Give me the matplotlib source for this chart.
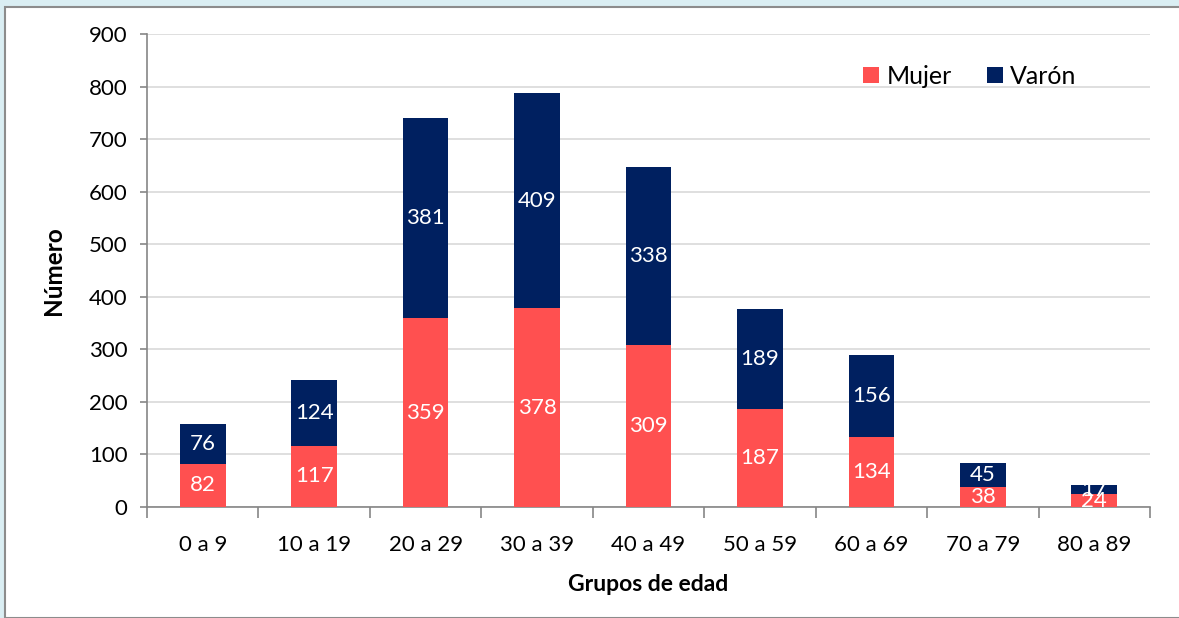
import matplotlib.pyplot as plt
from matplotlib.patches import Rectangle
import numpy as np

# Datos
grupos = ['0 a 9', '10 a 19', '20 a 29', '30 a 39', '40 a 49',
          '50 a 59', '60 a 69', '70 a 79', '80 a 89']
mujer = [82, 117, 359, 378, 309, 187, 134, 38, 24]
varon = [76, 124, 381, 409, 338, 189, 156, 45, 17]

color_mujer = '#FF5050'
color_varon = '#002060'

plt.rcParams['font.family'] = ['Lato', 'DejaVu Sans']

fig = plt.figure(figsize=(11.79, 6.18), dpi=100, facecolor='#DAEEF3')

# marco blanco del grafico (el titulo queda cortado arriba)
fig.patches.append(Rectangle((5 / 1179, 0), 1.0, 1 - 7 / 618, transform=fig.transFigure,
                             facecolor='white', edgecolor='#8C8C8C', linewidth=1.5, zorder=0))

ax = fig.add_axes([147 / 1179, 1 - 507 / 618, (1150 - 147) / 1179, (507 - 34) / 618])
ax.set_facecolor('none')
ax.set_zorder(5)

x = np.arange(len(grupos))
ancho = 0.41
b1 = ax.bar(x, mujer, ancho, color=color_mujer, label='Mujer', zorder=3)
b2 = ax.bar(x, varon, ancho, bottom=mujer, color=color_varon, label='Varón', zorder=3)

# etiquetas de valores dentro de cada segmento
for i in range(len(grupos)):
    ax.text(x[i], mujer[i] / 2, str(mujer[i]), ha='center', va='center',
            color='white', fontsize=16, zorder=4)
    ax.text(x[i], mujer[i] + varon[i] / 2, str(varon[i]), ha='center', va='center',
            color='white', fontsize=16, zorder=4)

ax.set_xlim(-0.5, len(grupos) - 0.5)
ax.set_ylim(0, 900)
ax.set_yticks(range(0, 901, 100))
ax.yaxis.grid(True, color='#D9D9D9', linewidth=1.2, zorder=0)
ax.set_axisbelow(True)

ax.set_xticks(x)
ax.set_xticklabels(grupos)
ax.set_xticks(np.arange(-0.5, len(grupos)), minor=True)
ax.tick_params(axis='x', which='major', length=0, pad=20, labelsize=16)
ax.tick_params(axis='x', which='minor', length=8, color='#868686', width=1.2)
ax.tick_params(axis='y', length=5, color='#868686', width=1.2, labelsize=16, pad=9)

for s in ['top', 'right']:
    ax.spines[s].set_visible(False)
for s in ['left', 'bottom']:
    ax.spines[s].set_color('#868686')
    ax.spines[s].set_linewidth(1.2)

ax.set_xlabel('Grupos de edad', fontsize=16.5, fontweight='bold', labelpad=14)
ax.set_ylabel('Número', fontsize=17.5, fontweight='bold', labelpad=17)

ax.legend(loc='center right', bbox_to_anchor=(0.927, 0.911), ncol=2, frameon=False,
          fontsize=18, handlelength=0.64, handleheight=0.64, columnspacing=1.4,
          handletextpad=0.3, borderaxespad=0, borderpad=0)

fig.savefig('out.png', dpi=100, facecolor=fig.get_facecolor())
